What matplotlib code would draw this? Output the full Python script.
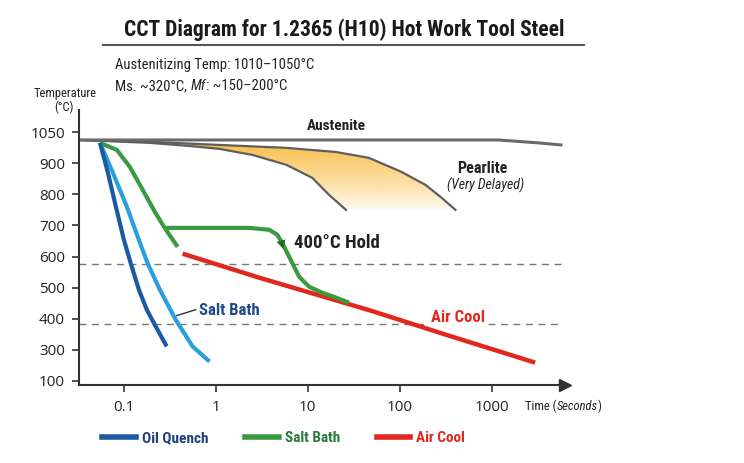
import numpy as np
import matplotlib
matplotlib.use("Agg")
import matplotlib.pyplot as plt
from matplotlib import font_manager
from matplotlib.patches import Polygon, FancyArrowPatch
from matplotlib.lines import Line2D

# pick a condensed face if there is one
names = {f.name for f in font_manager.fontManager.ttflist}
NARROW = "DejaVu Sans"
for cand in ["Roboto Condensed", "Liberation Sans Narrow", "Open Sans Condensed"]:
    if cand in names:
        NARROW = cand
        break
TICKFONT = "Open Sans" if "Open Sans" in names else "DejaVu Sans"

# y axis is evenly spaced labels, not linear temperature
temp_ticks = [100, 300, 400, 500, 600, 700, 800, 900, 1050]
temp_map = [-100] + temp_ticks + [1200]
pos_map = list(range(-1, len(temp_ticks) + 1))

def fwd(t):
    return np.interp(t, temp_map, pos_map)

def inv(p):
    return np.interp(p, pos_map, temp_map)

x_ticks = [0.1, 1, 10, 100, 1000]
x_ticklabels = ["0.1", "1", "10", "100", "1000"]

# cooling curves (time s, temp C)
oil_t = [0.055, 0.0671, 0.0819, 0.1, 0.1191, 0.1454, 0.1775, 0.2222, 0.2924]
oil_T = [998, 869, 760, 654, 577, 494, 429, 375, 311]

oil2_t = [0.055, 0.0760, 0.1078, 0.1454, 0.182, 0.2455, 0.3659, 0.5594, 0.855]
oil2_T = [998, 869, 760, 654, 577, 494, 397, 311, 225]

salt_t = [0.055, 0.084, 0.1162, 0.1606, 0.2168, 0.278, 0.3846]
salt_T = [998, 964, 888, 814, 744, 692, 631]

hold_t = [0.278, 2.32, 3.82, 4.66, 5.28, 5.98, 6.78, 8.07, 10.35, 14.3, 20.3, 28.1]
hold_T = [692, 692, 686, 670, 644, 612, 580, 535, 503, 484, 468, 452]

air_t = [0.436, 2.97, 48.6, 340, 2980]
air_T = [609, 532, 426, 346, 218]

aust_t = [0.0325, 1186, 3214, 5700]
aust_T = [1012, 1012, 998, 988]

# pearlite nose boundaries
p_in_t = [0.0325, 0.1913, 0.519, 1.096, 2.50, 5.83, 11.2, 17.1, 26.1]
p_in_T = [1012, 998, 983, 969, 940, 895, 853, 798, 750]
p_out_t = [0.0325, 0.1913, 1.096, 5.83, 20.3, 46.2, 105, 192, 286, 405]
p_out_T = [1012, 1003, 988, 974, 954, 926, 872, 830, 789, 750]

dash_hi = 577
dash_lo = 384

c_oil = "#1c5aa3"
c_oil2 = "#2a9fdb"
c_salt = "#3a9a41"
c_air = "#e2281d"
c_axis = "#333333"

fig = plt.figure(figsize=(7.44, 4.63), dpi=100)
ax = fig.add_axes([79 / 744, 1 - 385 / 463, (565 - 79) / 744, 275 / 463])
ax.set_xscale("log")
ax.set_yscale("function", functions=(fwd, inv))
xmin, xmax = 0.0325, 6300
ymin, ymax = inv(-0.13), inv(8.71)

# pearlite gradient
poly = np.column_stack([p_out_t + p_in_t[::-1], p_out_T + p_in_T[::-1]])
patch = Polygon(poly, closed=True, transform=ax.transData, facecolor="none", edgecolor="none")
ax.add_patch(patch)
grad = np.zeros((100, 2, 4))
grad[..., 0] = 249 / 255
grad[..., 1] = 190 / 255
grad[..., 2] = 72 / 255
grad[..., 3] = np.linspace(1, 0, 100)[:, None] ** 0.8
im = ax.imshow(grad, extent=[0, 1, 0.63, 0.89], transform=ax.transAxes,
               aspect="auto", origin="upper", zorder=1)
im.set_clip_path(patch)

ax.plot(p_in_t, p_in_T, color="#5e5e5e", lw=1.6, zorder=2)
ax.plot(p_out_t, p_out_T, color="#5e5e5e", lw=1.6, zorder=2)
ax.plot(aust_t, aust_T, color="#6a6a6a", lw=2.2, zorder=2)

ax.hlines(dash_hi, xmin, 5700, colors="#777777", lw=1, linestyles=(0, (5, 4)), zorder=1)
ax.hlines(dash_lo, xmin, 206, colors="#777777", lw=1, linestyles=(0, (5, 4)), zorder=1)
ax.hlines(dash_lo, 923, 5700, colors="#777777", lw=1, linestyles=(0, (5, 4)), zorder=1)

ax.plot(air_t, air_T, color=c_air, lw=3.2, solid_capstyle="butt", zorder=3)
ax.plot(hold_t, hold_T, color=c_salt, lw=3, solid_capstyle="butt", solid_joinstyle="round", zorder=4)
ax.plot(salt_t, salt_T, color=c_salt, lw=3, solid_capstyle="butt", solid_joinstyle="round", zorder=4)
ax.plot(oil2_t, oil2_T, color=c_oil2, lw=3, solid_capstyle="butt", solid_joinstyle="round", zorder=4)
ax.plot(oil_t, oil_T, color=c_oil, lw=3, solid_capstyle="butt", solid_joinstyle="round", zorder=4)

arr = FancyArrowPatch((5.02, 660), (5.55, 615), arrowstyle="-|>", mutation_scale=16,
                      color="#1f6b2a", lw=0, zorder=5)
ax.add_patch(arr)

ax.text(20.3, 1080, "Austenite", fontfamily=NARROW, fontweight="bold", fontsize=11,
        color="#222222", ha="center", va="center")
ax.text(794, 884, "Pearlite", fontfamily=NARROW, fontweight="bold", fontsize=11.5,
        color="#222222", ha="center", va="center")
ax.text(857, 830, "(Very Delayed)", fontfamily=NARROW, fontstyle="italic", fontsize=10,
        color="#222222", ha="center", va="center")
ax.text(7.13, 644, "400°C Hold", fontfamily=NARROW, fontweight="bold", fontsize=13.5,
        color="#222222", ha="left", va="center")
ax.plot([0.375, 0.603], [410, 429], color="#333333", lw=1, zorder=3)
ax.text(0.65, 426, "Salt Bath", fontfamily=NARROW, fontweight="bold", fontsize=12,
        color="#1f4a8a", ha="left", va="center")
ax.text(217, 404, "Air Cool", fontfamily=NARROW, fontweight="bold", fontsize=12,
        color=c_air, ha="left", va="center")

ax.set_xlim(xmin, xmax)
ax.set_ylim(ymin, ymax)
ax.set_xticks(x_ticks)
ax.set_xticklabels(x_ticklabels)
ax.set_yticks(temp_ticks)
ax.set_yticklabels([str(v) for v in temp_ticks])
ax.xaxis.set_minor_locator(matplotlib.ticker.NullLocator())
ax.yaxis.set_minor_locator(matplotlib.ticker.NullLocator())
for lab in ax.get_xticklabels() + ax.get_yticklabels():
    lab.set_fontfamily(TICKFONT)
    lab.set_fontsize(11)
    lab.set_color("#222222")
ax.tick_params(axis="both", direction="out", length=5, width=1.2, color=c_axis, pad=5)
ax.tick_params(axis="x", pad=6)
for s in ["top", "right"]:
    ax.spines[s].set_visible(False)
for s in ["left", "bottom"]:
    ax.spines[s].set_color(c_axis)
    ax.spines[s].set_linewidth(1.5)
ax.plot(1.0, 0, marker=">", color=c_axis, ms=8, transform=ax.transAxes, clip_on=False)

# header
fig.text(344 / 744, 1 - 30 / 463, "CCT Diagram for 1.2365 (H10) Hot Work Tool Steel",
         fontfamily=NARROW, fontweight="bold", fontsize=15.5, color="#1a1a1a",
         ha="center", va="center")
fig.add_artist(Line2D([103 / 744, 584 / 744], [1 - 45 / 463, 1 - 45 / 463],
                      color="#555555", lw=1.5))
fig.text(115 / 744, 1 - 65 / 463, "Austenitizing Temp: 1010–1050°C", fontfamily=NARROW,
         fontsize=10.5, color="#222222", ha="left", va="center")
t1 = fig.text(115 / 744, 1 - 86 / 463, "Ms. ~320°C, ", fontfamily=NARROW,
              fontsize=10.5, color="#222222", ha="left", va="center")
t2 = fig.text(0, 0, "Mf", fontfamily=NARROW, fontstyle="italic", fontsize=10.5, color="#222222")
t3 = fig.text(0, 0, ": ~150–200°C", fontfamily=NARROW, fontsize=10.5, color="#222222")
fig.canvas.draw()
r = fig.canvas.get_renderer()
bb = t1.get_window_extent(r)
t2.set_position((bb.x1 / fig.bbox.width, bb.y0 / fig.bbox.height))
t2.set_va("bottom")
fig.canvas.draw()
bb2 = t2.get_window_extent(r)
t3.set_position((bb2.x1 / fig.bbox.width, bb.y0 / fig.bbox.height))
t3.set_va("bottom")

fig.text(65 / 744, 1 - 94 / 463, "Temperature", fontfamily=NARROW, fontsize=9,
         color="#222222", ha="center", va="center")
fig.text(64 / 744, 1 - 107 / 463, "(°C)", fontfamily=NARROW, fontsize=9,
         color="#222222", ha="center", va="center")
t_time = fig.text(525 / 744, 1 - 406 / 463, "Time (", fontfamily=NARROW, fontsize=9,
                  color="#222222", ha="left", va="center")
tx = fig.text(0, 0, "Seconds", fontfamily=NARROW, fontstyle="italic", fontsize=9, color="#222222")
ty = fig.text(0, 0, ")", fontfamily=NARROW, fontsize=9, color="#222222")
fig.canvas.draw()
b0 = t_time.get_window_extent(r)
tx.set_position((b0.x1 / fig.bbox.width, b0.y0 / fig.bbox.height))
tx.set_va("bottom")
fig.canvas.draw()
b1 = tx.get_window_extent(r)
ty.set_position((b1.x1 / fig.bbox.width, b0.y0 / fig.bbox.height))
ty.set_va("bottom")

# legend
handles = [Line2D([], [], color=c_oil, lw=4), Line2D([], [], color=c_salt, lw=4),
           Line2D([], [], color=c_air, lw=4)]
leg = fig.legend(handles, ["Oil Quench", "Salt Bath", "Air Cool"], loc="center left",
                 bbox_to_anchor=(102 / 744, 1 - 438 / 463), ncol=3, frameon=False,
                 handlelength=2.2, handletextpad=0.4, columnspacing=2.4,
                 borderpad=0, borderaxespad=0,
                 prop={"family": NARROW, "weight": "bold", "size": 11})
for txt, c in zip(leg.get_texts(), ["#1f3f7a", "#2a7a3a", c_air]):
    txt.set_color(c)

fig.savefig("out.png", dpi=100)
